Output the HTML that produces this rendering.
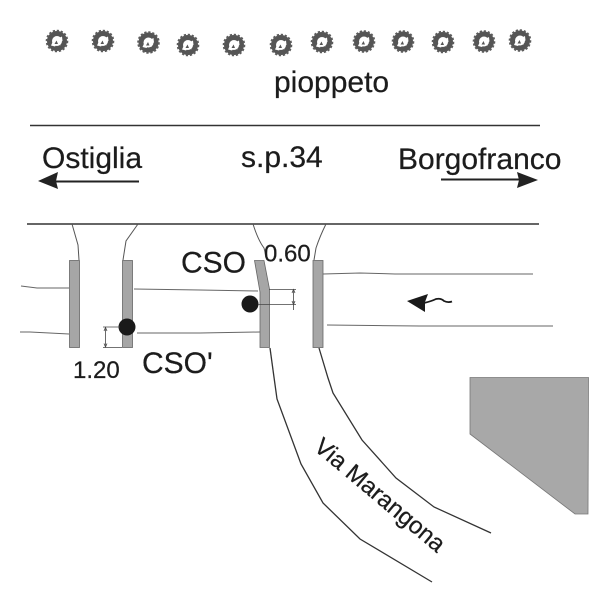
<!DOCTYPE html>
<html>
<head>
<meta charset="utf-8">
<style>
html,body{margin:0;padding:0;background:#fff;}
svg{display:block;filter:blur(0.35px);}
text{font-family:"Liberation Sans",sans-serif;fill:#1c1c1c;stroke:#1c1c1c;stroke-width:0.25px;}
</style>
</head>
<body>
<svg width="600" height="600" viewBox="0 0 600 600" xmlns="http://www.w3.org/2000/svg">
<defs>
<g id="t">
<circle r="7.5" fill="none" stroke="#555" stroke-width="5"/>
<circle r="10.300" fill="none" stroke="#5c5c5c" stroke-width="2" stroke-dasharray="2.200 1.800"/>
<path d="M-6,4.500 L-3,-2 L-1,-5 L0,-2 L2,-3 L5,-4.500 L5.500,0 L2.500,1 L3.500,4.500 L0.500,2.500 L-2,5.500 Z" fill="#fff"/>
<path d="M-2.500,3 L-0.500,-0.500 L1,3 Z" fill="#555"/>
</g>
</defs>
<rect width="600" height="600" fill="#fff"/>

<g>
<use href="#t" x="57" y="41"/>
<use href="#t" x="103" y="41"/>
<use href="#t" x="148.500" y="42.500"/>
<use href="#t" x="188" y="45"/>
<use href="#t" x="234" y="45"/>
<use href="#t" x="281" y="45"/>
<use href="#t" x="322" y="42"/>
<use href="#t" x="364" y="41.500"/>
<use href="#t" x="403" y="41.500"/>
<use href="#t" x="443" y="42"/>
<use href="#t" x="484" y="41.500"/>
<use href="#t" x="520" y="40.500"/>
</g>

<text x="274" y="92" font-size="30">pioppeto</text>

<line x1="30" y1="125.500" x2="540" y2="125.500" stroke="#333" stroke-width="1.500"/>
<line x1="27" y1="224" x2="539" y2="224" stroke="#333" stroke-width="1.500"/>

<text x="42" y="168" font-size="30">Ostiglia</text>
<text x="241" y="167" font-size="30">s.p.34</text>
<text x="398" y="169" font-size="30">Borgofranco</text>

<line x1="52" y1="181.500" x2="139" y2="181.500" stroke="#222" stroke-width="2"/>
<polygon points="38,181 58,172 56,181 58,189" fill="#222"/>
<line x1="441" y1="179.500" x2="522" y2="179.500" stroke="#222" stroke-width="2"/>
<polygon points="538,180 517,172 519,180 517,188" fill="#222"/>

<!-- side road curves at top -->
<g fill="none" stroke="#555" stroke-width="1">
<path d="M72,224 L78,245 L79,260"/>
<path d="M138,224 L126,241 L123,260"/>
<path d="M253,224 Q258,240 264,248 L267,260"/>
<path d="M326,224 Q320,236 316,248 L314,260"/>
</g>

<!-- horizontal road edges -->
<g fill="none" stroke="#666" stroke-width="1">
<path d="M21,286 L37,288 L69,288"/>
<path d="M20,332 L30,332 L69,334"/>
<path d="M134,289 L200,290 L258,291"/>
<path d="M137,333 L200,333 L260,332"/>
<path d="M323,274 L360,273 L395,274 L533,274"/>
<path d="M327,325 L420,326 L553,326"/>
</g>

<!-- grey bars -->
<g fill="#a6a6a6" stroke="#666" stroke-width="0.800">
<rect x="69.500" y="260.500" width="10" height="87"/>
<rect x="122.500" y="260.500" width="10" height="87"/>
<polygon points="254.500,260.500 264,260.500 269.500,289 269.500,347.500 260,347.500 260,292"/>
<rect x="313" y="260.500" width="10" height="87"/>
</g>

<!-- dots -->
<circle cx="127" cy="327" r="8.500" fill="#1a1a1a"/>
<circle cx="250" cy="304" r="8.500" fill="#1a1a1a"/>

<!-- dimensions -->
<g stroke="#444" stroke-width="0.800" fill="none">
<line x1="103" y1="327" x2="120" y2="327"/>
<line x1="103" y1="347.500" x2="122" y2="347.500"/>
<line x1="105.500" y1="327" x2="105.500" y2="347"/>
<path d="M104,331 L105.500,327.500 L107,331"/>
<path d="M104,343.500 L105.500,347 L107,343.500"/>
<line x1="258" y1="304.500" x2="296" y2="304.500"/>
<line x1="269" y1="289.500" x2="296" y2="289.500"/>
<line x1="293.500" y1="289" x2="293.500" y2="310"/>
<path d="M292,293 L293.500,289.500 L295,293"/>
<path d="M292,301 L293.500,304.500 L295,301"/>
</g>

<text x="73" y="378" font-size="24">1.20</text>
<text x="142" y="373" font-size="30">CSO'</text>
<text x="181" y="272.500" font-size="30">CSO</text>
<text x="264" y="261.500" font-size="24">0.60</text>

<!-- wavy arrow -->
<polygon points="407,301 428,294 425,302 425,312" fill="#1a1a1a"/>
<path d="M424,303 Q432,301 436,299 Q441,298 444,301 Q448,303 452,301.500" fill="none" stroke="#1a1a1a" stroke-width="1.800"/>

<!-- Via Marangona road -->
<g fill="none" stroke="#333" stroke-width="1.300">
<path d="M273,370 L277,399 L301,464 L323,503 L360,539 L432,582"/>
<path d="M270,348 L273,370"/>
<path d="M319,348 L328,378 L333,393 L362,440 L396,478 L434,507 L491,533"/>
</g>

<text x="380" y="503" font-size="24" text-anchor="middle" transform="rotate(40 380 495)">Via Marangona</text>

<!-- grey polygon -->
<polygon points="470,377.500 588.500,377.500 588,514 575,514 470,434" fill="#a8a8a8" stroke="#777" stroke-width="0.800"/>
</svg>
</body>
</html>
